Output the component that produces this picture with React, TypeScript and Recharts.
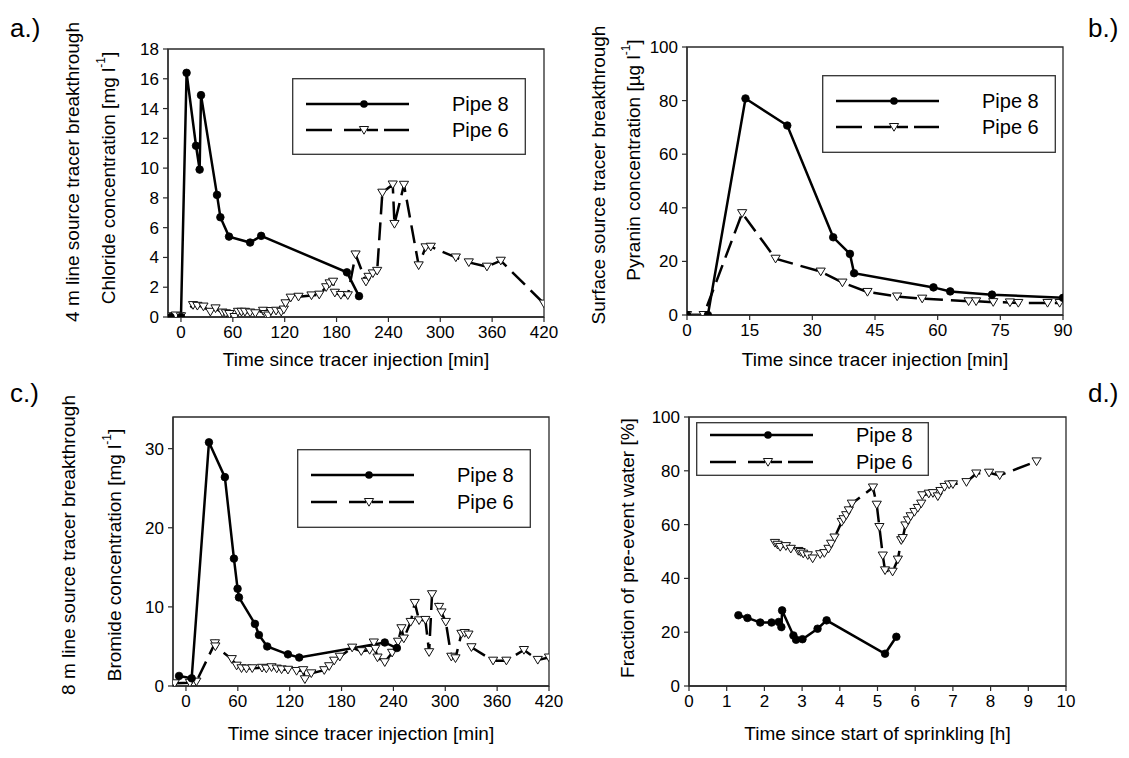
import React from 'react';
import { LineChart, Line, XAxis, YAxis, ReferenceArea, Legend, Label } from 'recharts';

const FONT = '"Liberation Sans", Arial, Helvetica, sans-serif';
const AXIS = '#2a2a2a';

// ---------- Panel a: 4 m line source, chloride ----------
const aPipe8Time = [-12, 0, 6.5, 17.4, 21.6, 23.2, 41.7, 45.6, 55.6, 80, 92.8, 192, 206];
const aPipe8Value = [0, 0, 16.4, 11.5, 9.9, 14.9, 8.2, 6.7, 5.4, 5.0, 5.45, 3.0, 1.4];
const aPipe6Time = [-15, -6, 0, 14, 19, 26, 34, 40, 48, 52, 56, 62, 66, 70, 74, 80, 86, 95, 98, 101, 104, 110, 116, 119, 121, 127, 136, 151, 160, 168, 172, 176, 178, 185, 193, 202, 214, 217, 222, 227, 233, 245, 247, 258, 275, 283, 289, 318, 333, 354, 370, 420];
const aPipe6Value = [0.05, 0.1, 0.05, 0.8, 0.75, 0.7, 0.35, 0.58, 0.3, 0.25, 0.2, 0.0, 0.35, 0.35, 0.35, 0.3, 0.25, 0.42, 0.2, 0.1, 0.4, 0.42, 0.35, 0.5, 0.92, 1.3, 1.36, 1.45, 1.5, 2.0, 2.26, 2.37, 1.63, 1.48, 1.46, 4.2, 2.37, 2.7, 2.93, 3.1, 8.35, 8.9, 6.25, 8.88, 3.47, 4.68, 4.72, 4.0, 3.67, 3.38, 3.78, 0.9];
const aXTicks = [0, 60, 120, 180, 240, 300, 360, 420];
const aYTicks = [0, 2, 4, 6, 8, 10, 12, 14, 16, 18];

// ---------- Panel b: surface source, pyranin ----------
const bPipe8Time = [0, 5, 14, 24, 35, 39, 40, 59, 63, 73, 90];
const bPipe8Value = [0, 0, 80.8, 70.7, 29, 22.8, 15.6, 10.3, 8.8, 7.6, 6.4];
const bPipe6Time = [0, 4, 13.2, 21.2, 32, 37.2, 43.2, 50.3, 56.3, 67.4, 69.2, 73.3, 77.3, 79.3, 86.3, 89.2];
const bPipe6Value = [0, 0, 38, 21, 16.2, 12.1, 8.6, 6.9, 6.1, 5.1, 5.1, 4.8, 4.7, 4.5, 4.5, 4.5];
const bXTicks = [0, 15, 30, 45, 60, 75, 90];
const bYTicks = [0, 20, 40, 60, 80, 100];

// ---------- Panel c: 8 m line source, bromide ----------
const cPipe8Time = [-8, 6.6, 26.6, 45, 55.5, 59.7, 61.3, 79.8, 84.4, 94, 118, 131, 230, 244];
const cPipe8Value = [1.27, 0.97, 30.8, 26.4, 16.1, 12.3, 11.2, 7.85, 6.45, 5.0, 4.0, 3.6, 5.5, 4.8];
const cPipe6Time = [-13, 4.6, 12, 33.5, 34, 53, 58.6, 64.3, 70, 76.7, 88, 93, 99, 105, 110.6, 118, 128, 135.6, 137.6, 145, 160, 165.7, 171.5, 178, 192.3, 202.8, 212.5, 217.3, 219, 221.6, 230, 238.5, 245.4, 249.3, 252, 260, 264.7, 269.7, 277, 281.3, 284.7, 292.8, 295.6, 300.6, 307, 311.8, 318.7, 322.5, 326.8, 330.3, 355.3, 370.7, 391, 407, 420];
const cPipe6Value = [0.34, 0.4, 0.55, 5.4, 5.0, 3.4, 2.57, 2.24, 2.2, 2.24, 2.3, 2.2, 2.37, 2.2, 2.1, 2.05, 1.9, 2.0, 0.85, 1.6, 2.0, 2.5, 3.2, 3.7, 4.85, 4.4, 4.55, 5.5, 4.7, 3.6, 3.0, 4.2, 5.6, 7.3, 6.0, 8.1, 10.5, 8.3, 8.35, 4.27, 11.6, 10.0, 9.3, 8.1, 3.7, 3.5, 6.6, 6.7, 6.5, 4.9, 3.2, 3.2, 4.55, 3.3, 3.6];
const cXTicks = [0, 60, 120, 180, 240, 300, 360, 420];
const cYTicks = [0, 10, 20, 30];

// ---------- Panel d: fraction of pre-event water ----------
const dPipe8Time = [1.31, 1.55, 1.89, 2.19, 2.38, 2.45, 2.47, 2.77, 2.84, 3.01, 3.41, 3.65, 5.2, 5.5];
const dPipe8Value = [26.3, 25.3, 23.6, 23.6, 23.8, 21.9, 28.1, 18.8, 17.2, 17.4, 21.3, 24.4, 12, 18.3];
const dPipe6Time = [2.28, 2.35, 2.42, 2.57, 2.7, 2.9, 2.96, 3.03, 3.15, 3.28, 3.48, 3.59, 3.7, 3.77, 3.86, 4.05, 4.1, 4.17, 4.24, 4.32, 4.88, 4.98, 5.05, 5.14, 5.2, 5.4, 5.54, 5.63, 5.67, 5.74, 5.81, 5.88, 5.98, 6.07, 6.16, 6.19, 6.36, 6.47, 6.6, 6.67, 6.78, 6.9, 7.0, 7.36, 7.62, 7.96, 8.24, 9.22];
const dPipe6Value = [53.2, 52.5, 51.7, 52, 51, 50.2, 49.8, 49.2, 48.6, 47.4, 49, 49.4, 51, 52.9, 55.2, 61, 62, 63.5, 65.3, 67.8, 73.8, 67.4, 59.1, 48.5, 43, 42.5, 47, 54.2, 55, 59.7, 61.6, 63.1, 64.7, 66.2, 67.8, 70.9, 71.5, 71.7, 70.5, 72.5, 74, 74.9, 75, 75.8, 79, 79.3, 78.3, 83.5];
const dXTicks = [0, 1, 2, 3, 4, 5, 6, 7, 8, 9, 10];
const dYTicks = [0, 20, 40, 60, 80, 100];

type Pt = { t: number; v: number };
const zip = (ts: number[], vs: number[]): Pt[] => ts.map((t, i) => ({ t, v: vs[i] }));

const triPoints = (cx: number, cy: number) =>
  `${cx - 4.6},${cy - 3.5} ${cx + 4.6},${cy - 3.5} ${cx},${cy + 4.2}`;

const DotCircle = (p: any) => {
  if (p.cx == null || p.cy == null) return <g key={`c${p.index}`} />;
  return <circle key={`c${p.index}`} cx={p.cx} cy={p.cy} r={3.8} fill="#000" stroke="#000" strokeWidth={0.8} />;
};
const DotTri = (p: any) => {
  if (p.cx == null || p.cy == null) return <g key={`t${p.index}`} />;
  return (
    <polygon key={`t${p.index}`} points={triPoints(p.cx, p.cy)} fill="#fff" stroke="#111" strokeWidth={1} />
  );
};

type TitleLine = { main: string; sup?: string; tail?: string; x: number; cy: number };

const makeYTitle = (lines: TitleLine[], ox: number, oy: number) => () => (
  <g>
    {lines.map((l, i) => {
      const x = l.x - ox;
      const y = l.cy - oy;
      return (
        <text
          key={i}
          transform={`translate(${x},${y}) rotate(-90)`}
          textAnchor="middle"
          dominantBaseline="central"
          fontSize={19}
          fontFamily={FONT}
          fill="#000"
        >
          {l.main}
          {l.sup ? (
            <tspan dy={-7} fontSize={12}>
              {l.sup}
            </tspan>
          ) : null}
          {l.tail ? <tspan dy={l.sup ? 7 : 0}>{l.tail}</tspan> : null}
        </text>
      );
    })}
  </g>
);

type LegendSpec = { left: number; top: number; w: number; h: number; r1: number; r2: number };

const LegendBox = ({ spec }: { spec: LegendSpec }) => {
  const { w, h, r1, r2 } = spec;
  const x0 = 14;
  const x1 = 117;
  const mx = 72;
  const tx = 160;
  return (
    <svg width={w} height={h} style={{ display: 'block', overflow: 'visible' }}>
      <rect x={0.7} y={0.7} width={w - 1.4} height={h - 1.4} fill="#fff" stroke="#333" strokeWidth={1.3} />
      <line x1={x0} x2={x1} y1={r1} y2={r1} stroke="#000" strokeWidth={2.5} />
      <circle cx={mx} cy={r1} r={3.8} fill="#000" />
      <text x={tx} y={r1} dominantBaseline="central" fontSize={20} fontFamily={FONT} fill="#000">
        Pipe 8
      </text>
      <line x1={x0} x2={x0 + 26} y1={r2} y2={r2} stroke="#000" strokeWidth={2.5} />
      <line x1={x0 + 38} x2={mx - 3} y1={r2} y2={r2} stroke="#000" strokeWidth={2.5} />
      <line x1={mx + 3} x2={mx + 14} y1={r2} y2={r2} stroke="#000" strokeWidth={2.5} />
      <line x1={mx + 20} x2={x1} y1={r2} y2={r2} stroke="#000" strokeWidth={2.5} />
      <polygon points={triPoints(mx, r2)} fill="#fff" stroke="#111" strokeWidth={1} />
      <text x={tx} y={r2} dominantBaseline="central" fontSize={20} fontFamily={FONT} fill="#000">
        Pipe 6
      </text>
    </svg>
  );
};

type PanelProps = {
  left: number;
  top: number;
  width: number;
  height: number;
  marginTop: number;
  marginRight: number;
  yWidth: number;
  xHeight: number;
  xDomain: [number, number];
  xTicks: number[];
  yDomain: [number, number];
  yTicks: number[];
  p8: Pt[];
  p6: Pt[];
  xTitle: string;
  xTitleOffset: number;
  yTitles: TitleLine[];
  legend: LegendSpec;
};

const Panel = (p: PanelProps) => {
  const tickStyle = { fontSize: 17, fill: '#000', fontFamily: FONT };
  return (
    <div style={{ position: 'absolute', left: p.left, top: p.top, width: p.width, height: p.height }}>
      <LineChart
        width={p.width}
        height={p.height}
        margin={{ top: p.marginTop, right: p.marginRight, left: 0, bottom: 0 }}
      >
        <XAxis
          type="number"
          dataKey="t"
          domain={p.xDomain}
          ticks={p.xTicks}
          interval={0}
          allowDataOverflow
          height={p.xHeight}
          tickSize={5}
          tickMargin={4}
          axisLine={{ stroke: AXIS, strokeWidth: 1.3 }}
          tickLine={{ stroke: AXIS, strokeWidth: 1.2 }}
          tick={tickStyle}
        >
          <Label
            value={p.xTitle}
            position="insideBottom"
            offset={p.xTitleOffset}
            style={{ fontSize: 19, fontFamily: FONT, fill: '#000' }}
          />
        </XAxis>
        <YAxis
          type="number"
          domain={p.yDomain}
          ticks={p.yTicks}
          interval={0}
          allowDataOverflow
          width={p.yWidth}
          tickSize={5}
          tickMargin={4}
          axisLine={{ stroke: AXIS, strokeWidth: 1.3 }}
          tickLine={{ stroke: AXIS, strokeWidth: 1.2 }}
          tick={tickStyle}
        >
          <Label content={makeYTitle(p.yTitles, p.left, p.top)} />
        </YAxis>
        <ReferenceArea
          x1={p.xDomain[0]}
          x2={p.xDomain[1]}
          y1={p.yDomain[0]}
          y2={p.yDomain[1]}
          fill="none"
          fillOpacity={0}
          stroke={AXIS}
          strokeWidth={1.3}
        />
        <Line
          data={p.p6}
          dataKey="v"
          name="Pipe 6"
          stroke="#000"
          strokeWidth={2.5}
          strokeDasharray="18 8"
          dot={DotTri}
          activeDot={false}
          isAnimationActive={false}
        />
        <Line
          data={p.p8}
          dataKey="v"
          name="Pipe 8"
          stroke="#000"
          strokeWidth={2.5}
          dot={DotCircle}
          activeDot={false}
          isAnimationActive={false}
        />
        <Legend
          layout="horizontal"
          verticalAlign="middle"
          align="center"
          width={p.legend.w}
          height={p.legend.h}
          wrapperStyle={{
            position: 'absolute',
            left: p.legend.left - p.left,
            top: p.legend.top - p.top,
            width: p.legend.w,
            height: p.legend.h,
          }}
          content={() => <LegendBox spec={p.legend} />}
        />
      </LineChart>
    </div>
  );
};

const letterStyle: React.CSSProperties = {
  position: 'absolute',
  fontFamily: FONT,
  fontSize: 26,
  color: '#000',
  lineHeight: '26px',
};

export default function App() {
  return (
    <div
      style={{
        position: 'absolute',
        left: 0,
        top: 0,
        width: 1129,
        height: 758,
        background: '#fff',
        overflow: 'hidden',
      }}
    >
      <Panel
        left={0}
        top={0}
        width={562}
        height={375}
        marginTop={49}
        marginRight={18}
        yWidth={168}
        xHeight={58}
        xDomain={[-15, 420]}
        xTicks={aXTicks}
        yDomain={[0, 18]}
        yTicks={aYTicks}
        p8={zip(aPipe8Time, aPipe8Value)}
        p6={zip(aPipe6Time, aPipe6Value)}
        xTitle="Time since tracer injection [min]"
        xTitleOffset={9}
        yTitles={[
          { main: '4 m line source tracer breakthrough', x: 72, cy: 172 },
          { main: 'Chloride concentration [mg l', sup: '-1', tail: ']', x: 108, cy: 178 },
        ]}
        legend={{ left: 292, top: 78, w: 234, h: 77, r1: 26, r2: 52 }}
      />
      <Panel
        left={565}
        top={0}
        width={564}
        height={375}
        marginTop={47}
        marginRight={66}
        yWidth={122}
        xHeight={60}
        xDomain={[0, 90]}
        xTicks={bXTicks}
        yDomain={[0, 100]}
        yTicks={bYTicks}
        p8={zip(bPipe8Time, bPipe8Value)}
        p6={zip(bPipe6Time, bPipe6Value)}
        xTitle="Time since tracer injection [min]"
        xTitleOffset={9}
        yTitles={[
          { main: 'Surface source tracer breakthrough', x: 598, cy: 175 },
          { main: 'Pyranin concentration [µg l', sup: '-1', tail: ']', x: 633, cy: 160 },
        ]}
        legend={{ left: 822, top: 75, w: 234, h: 78, r1: 26, r2: 52 }}
      />
      <Panel
        left={0}
        top={375}
        width={565}
        height={383}
        marginTop={42}
        marginRight={16}
        yWidth={173}
        xHeight={72}
        xDomain={[-15, 420]}
        xTicks={cXTicks}
        yDomain={[0, 34]}
        yTicks={cYTicks}
        p8={zip(cPipe8Time, cPipe8Value)}
        p6={zip(cPipe6Time, cPipe6Value)}
        xTitle="Time since tracer injection [min]"
        xTitleOffset={18}
        yTitles={[
          { main: '8 m line source tracer breakthrough', x: 68, cy: 545 },
          { main: 'Bromide concentration [mg l', sup: '-1', tail: ']', x: 114, cy: 555 },
        ]}
        legend={{ left: 297, top: 449, w: 234, h: 79, r1: 26, r2: 53 }}
      />
      <Panel
        left={565}
        top={375}
        width={564}
        height={383}
        marginTop={42}
        marginRight={63}
        yWidth={124}
        xHeight={72}
        xDomain={[0, 10]}
        xTicks={dXTicks}
        yDomain={[0, 100]}
        yTicks={dYTicks}
        p8={zip(dPipe8Time, dPipe8Value)}
        p6={zip(dPipe6Time, dPipe6Value)}
        xTitle="Time since start of sprinkling [h]"
        xTitleOffset={18}
        yTitles={[{ main: 'Fraction of pre-event water [%]', x: 627, cy: 548 }]}
        legend={{ left: 696, top: 422, w: 233, h: 54, r1: 13, r2: 40 }}
      />
      <div style={{ ...letterStyle, left: 10, top: 15 }}>a.)</div>
      <div style={{ ...letterStyle, left: 1088, top: 15 }}>b.)</div>
      <div style={{ ...letterStyle, left: 10, top: 380 }}>c.)</div>
      <div style={{ ...letterStyle, left: 1088, top: 380 }}>d.)</div>
    </div>
  );
}
